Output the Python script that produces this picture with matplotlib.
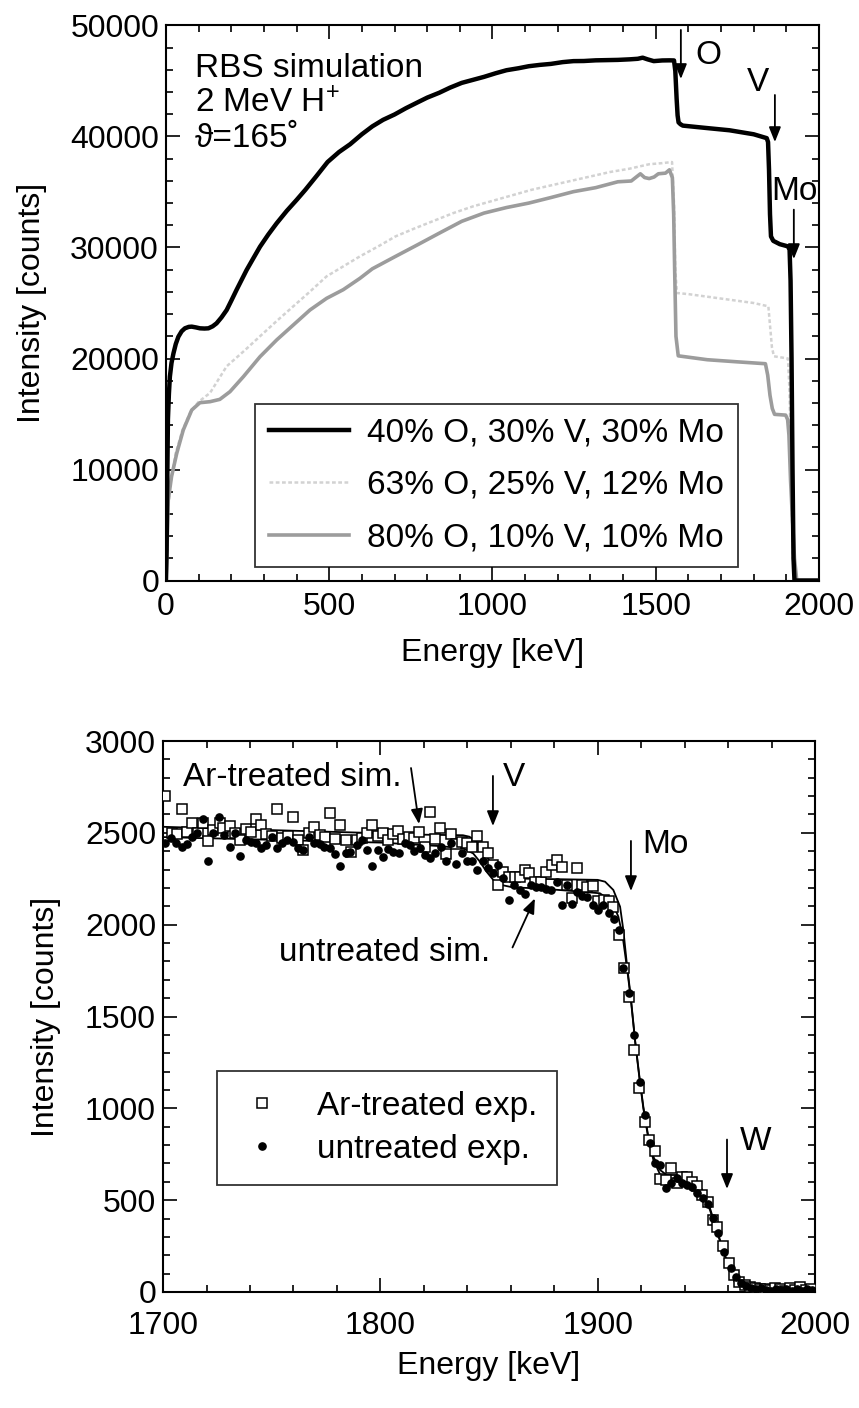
import matplotlib
matplotlib.use("Agg")
import matplotlib.pyplot as plt
from matplotlib.ticker import MultipleLocator

plt.rcParams['font.family'] = ['Liberation Sans', 'DejaVu Sans']
plt.rcParams['mathtext.fontset'] = 'custom'
plt.rcParams['mathtext.rm'] = 'Liberation Sans'
plt.rcParams['mathtext.it'] = 'Liberation Sans:italic'

# ---- top panel: simulated RBS spectra ----
e_40 = [0, 2, 4, 6, 9, 12, 17, 23, 30, 38, 48, 58, 70, 79, 92, 104, 118, 130, 143, 155, 170, 186,
        200, 216, 232, 247, 268, 288, 313, 339, 370, 400, 427, 460, 495, 530, 564, 600, 632, 665,
        700, 735, 769, 800, 837, 870, 906, 940, 974, 1010, 1043, 1080, 1111, 1145, 1179, 1215,
        1248, 1280, 1316, 1350, 1384, 1420, 1445, 1460, 1475, 1494, 1520, 1542, 1556, 1560,
        1564, 1567, 1570, 1576, 1583, 1650, 1726, 1800, 1840, 1844, 1847, 1850, 1853, 1860,
        1880, 1905, 1910, 1913, 1916, 1919, 1922, 1925, 2000]
i_40 = [0, 2750, 9000, 14500, 16800, 18360, 19600, 20470, 21300, 21960, 22450, 22720, 22850,
        22870, 22800, 22720, 22700, 22720, 22900, 23170, 23700, 24370, 25200, 26170, 27100,
        27970, 29050, 30070, 31150, 32180, 33300, 34280, 35200, 36400, 37700, 38600, 39300,
        40200, 40910, 41500, 41980, 42550, 43050, 43500, 43940, 44400, 44830, 45100, 45370,
        45700, 45970, 46150, 46330, 46450, 46540, 46700, 46790, 46800, 46860, 46880, 46900,
        46950, 47000, 47100, 46950, 46790, 46850, 46860, 46850, 45900, 43410, 41900, 41270,
        41100, 40980, 40780, 40560, 40200, 39850, 39500, 37000, 33000, 31000, 30600, 30300,
        30100, 29800, 27000, 20000, 10000, 2000, 0, 0]

e_63 = [0, 5, 15, 30, 50, 75, 100, 135, 186, 240, 288, 340, 390, 440, 492, 543, 594, 650, 703,
        760, 820, 880, 940, 1000, 1060, 1120, 1180, 1240, 1300, 1360, 1420, 1480, 1520, 1550,
        1556, 1560, 1565, 1600, 1700, 1800, 1845, 1850, 1856, 1862, 1905, 1910, 1915, 1920,
        1925, 1930, 2000]
i_63 = [0, 6000, 9000, 11500, 13500, 15200, 16100, 16900, 19300, 20700, 22000, 23400, 24700,
        26000, 27400, 28300, 29200, 30100, 31000, 31700, 32400, 33100, 33700, 34200, 34700,
        35200, 35600, 36000, 36400, 36800, 37100, 37500, 37600, 37700, 34000, 28000, 25900,
        25800, 25400, 25000, 24700, 23000, 21000, 20200, 20000, 17000, 9000, 2000, 0, 0, 0]

e_80 = [0, 2, 7, 17, 33, 53, 79, 104, 135, 165, 196, 237, 288, 339, 390, 441, 492, 543, 594,
        632, 700, 769, 837, 906, 974, 1043, 1111, 1179, 1248, 1316, 1384, 1425, 1453, 1466,
        1480, 1495, 1508, 1530, 1542, 1551, 1555, 1558, 1562, 1569, 1658, 1750, 1836, 1843,
        1850, 1857, 1864, 1898, 1904, 1908, 1913, 1918, 1925, 1932, 2000]
i_80 = [0, 1500, 7250, 9350, 11460, 13560, 15360, 16020, 16110, 16320, 17010, 18360, 20160,
        21670, 23020, 24370, 25420, 26200, 27220, 28080, 29150, 30220, 31290, 32360, 33100,
        33600, 34000, 34500, 35030, 35390, 35920, 35990, 36640, 36300, 36210, 36350, 36640,
        36700, 37000, 36280, 33000, 28000, 22000, 20240, 19890, 19700, 19530, 18500, 16680,
        15500, 14970, 14900, 14500, 13110, 9000, 5990, 2000, 0, 0]

top_labels = ['40% O, 30% V, 30% Mo', '63% O, 25% V, 12% Mo', '80% O, 10% V, 10% Mo']

# ---- bottom panel: measured and simulated spectra ----
ar_energy = [1700.9, 1704.0, 1706.3, 1708.6, 1710.9, 1713.5, 1716.0, 1718.3, 1720.9, 1723.2,
             1726.0, 1727.8, 1730.6, 1733.2, 1735.6, 1738.2, 1740.4, 1742.8, 1745.1, 1747.4,
             1750.0, 1752.3, 1754.6, 1757.4, 1759.7, 1762.3, 1764.6, 1767.2, 1769.5, 1772.0,
             1774.6, 1776.9, 1779.2, 1781.5, 1784.3, 1786.6, 1789.2, 1791.5, 1793.8, 1796.3,
             1798.7, 1801.0, 1803.6, 1805.9, 1808.2, 1810.5, 1813.0, 1815.5, 1817.9, 1820.5,
             1822.8, 1825.1, 1827.4, 1830.2, 1832.5, 1834.8, 1837.4, 1840.0, 1842.3, 1844.6,
             1847.0, 1849.3, 1851.6, 1854.2, 1856.5, 1859.3, 1861.9, 1864.2, 1866.5, 1868.5,
             1871.1, 1873.7, 1876.0, 1878.8, 1881.1, 1883.4, 1885.7, 1888.0, 1890.6, 1892.9,
             1895.2, 1897.7, 1900.3, 1902.9, 1905.4, 1907.2, 1909.8, 1912.3, 1914.6, 1916.9,
             1919.2, 1921.7, 1923.7, 1926.4, 1928.7, 1931.5, 1933.6, 1936.4, 1938.7, 1941.0,
             1943.3, 1945.9, 1948.2, 1950.6, 1953.0, 1955.1, 1957.8, 1960.6, 1962.9, 1965.2,
             1967.6, 1970.0, 1972.3, 1974.6, 1977.0, 1979.3, 1981.6, 1984.0, 1986.3, 1988.7,
             1991.0, 1993.3, 1995.7, 1998.0]
ar_counts = [2701, 2501, 2492, 2628, 2505, 2552, 2501, 2552, 2457, 2515,
             2552, 2524, 2537, 2497, 2461, 2519, 2505, 2577, 2542, 2492,
             2485, 2628, 2470, 2482, 2588, 2461, 2406, 2501, 2533, 2488,
             2479, 2610, 2464, 2542, 2461, 2397, 2461, 2470, 2501, 2542,
             2482, 2501, 2461, 2494, 2512, 2465, 2480, 2470, 2507, 2421,
             2615, 2467, 2528, 2385, 2492, 2439, 2452, 2447, 2425, 2482,
             2421, 2388, 2325, 2216, 2288, 2258, 2261, 2261, 2297, 2279,
             2234, 2234, 2288, 2325, 2352, 2312, 2216, 2143, 2306, 2216,
             2207, 2210, 2131, 2134, 2131, 2098, 1944, 1763, 1608, 1318,
             1109, 928, 828, 770, 613, 610, 673, 592, 624, 628,
             601, 578, 526, 492, 393, 356, 252, 156, 92, 55,
             38, 25, 20, 14, 18, 10, 22, 15, 8, 20,
             12, 25, 10, 18]

un_energy = [1700.9, 1703.5, 1706.0, 1708.6, 1711.2, 1713.5, 1715.8, 1718.3, 1720.9, 1723.2,
             1725.7, 1728.2, 1730.6, 1733.0, 1735.6, 1738.2, 1740.4, 1742.8, 1745.1, 1747.4,
             1750.0, 1752.3, 1754.8, 1757.2, 1759.8, 1762.3, 1764.6, 1767.2, 1769.5, 1772.0,
             1774.2, 1776.9, 1779.2, 1781.5, 1784.0, 1786.2, 1789.2, 1791.5, 1793.8, 1796.3,
             1798.7, 1801.0, 1803.6, 1805.9, 1808.4, 1811.3, 1813.6, 1815.6, 1818.2, 1820.5,
             1822.8, 1825.3, 1827.7, 1830.2, 1832.5, 1834.8, 1837.4, 1839.7, 1842.0, 1844.6,
             1847.0, 1849.3, 1851.6, 1854.2, 1856.5, 1859.3, 1861.6, 1864.2, 1866.5, 1869.1,
             1871.6, 1873.7, 1876.2, 1878.5, 1881.1, 1883.4, 1885.7, 1888.0, 1890.6, 1892.9,
             1895.2, 1897.7, 1900.3, 1902.6, 1905.4, 1907.5, 1910.0, 1911.8, 1914.6, 1916.9,
             1919.5, 1921.8, 1924.1, 1926.4, 1928.7, 1931.5, 1933.6, 1936.4, 1938.7, 1941.0,
             1943.4, 1945.9, 1948.4, 1950.8, 1953.0, 1955.3, 1958.3, 1961.2, 1963.5, 1965.8,
             1968.2, 1970.5, 1972.8, 1975.2, 1977.5, 1979.8, 1982.2, 1984.5, 1986.8, 1989.2,
             1991.5, 1993.8, 1996.2, 1998.6]
un_counts = [2447, 2470, 2447, 2421, 2437, 2480, 2497, 2574, 2347, 2497,
             2585, 2488, 2425, 2497, 2376, 2461, 2452, 2447, 2416, 2434,
             2479, 2416, 2443, 2461, 2450, 2416, 2406, 2479, 2447, 2440,
             2421, 2416, 2385, 2320, 2392, 2397, 2434, 2461, 2406, 2320,
             2406, 2370, 2410, 2397, 2388, 2443, 2434, 2403, 2416, 2379,
             2361, 2388, 2421, 2347, 2447, 2330, 2388, 2347, 2347, 2297,
             2349, 2306, 2283, 2325, 2252, 2134, 2216, 2189, 2167, 2216,
             2203, 2203, 2192, 2189, 2234, 2107, 2216, 2113, 2180, 2156,
             2149, 2107, 2080, 2107, 2062, 2029, 1971, 1763, 1626, 1400,
             1146, 964, 810, 700, 691, 564, 592, 619, 595, 583,
             574, 537, 510, 480, 401, 320, 220, 129, 80, 48,
             30, 22, 15, 20, 12, 8, 16, 10, 18, 8,
             14, 6, 15, 9]

sim_ar_energy = [1700, 1750, 1800, 1820, 1838, 1841, 1844, 1847, 1850, 1852, 1854, 1858, 1880,
                 1900, 1903.4, 1907.2, 1910.3, 1911.8, 1913.4, 1915.2, 1917.2, 1919.2, 1921,
                 1923.3, 1925.6, 1928.7, 1931.8, 1938, 1942.5, 1945.6, 1948.6, 1951.7, 1954.8,
                 1959, 1963, 1967, 1971, 1980, 2000]
sim_ar_counts = [2533, 2515, 2498, 2490, 2487, 2479, 2452, 2407, 2352, 2298, 2265, 2252, 2248,
                 2244, 2234, 2189, 2098, 1971, 1789, 1608, 1372, 1172, 1009,
                 846, 737, 664, 637, 637, 628, 601, 546, 455, 337,
                 184, 58, 17, 8, 6, 6]
sim_un_energy = [1700, 1750, 1800, 1826, 1838, 1842.7, 1845.8, 1848.9, 1852, 1855.8, 1861, 1872,
                 1890, 1901, 1906.5, 1909.5, 1911.5, 1913.4, 1915.2, 1917.2, 1919.2, 1921,
                 1923.3, 1925.6, 1928.7, 1931.8, 1938, 1942.5, 1945.6, 1948.6, 1951.7, 1954.8,
                 1959, 1963, 1967, 1971, 1980, 2000]
sim_un_counts = [2477, 2462, 2447, 2429, 2416, 2388, 2343, 2288, 2243, 2216, 2203, 2198,
                 2182, 2171, 2126, 2044, 1935, 1771, 1600, 1365, 1165, 1000,
                 835, 720, 640, 612, 608, 600, 578, 530, 445, 330,
                 180, 55, 15, 6, 5, 5]

fig = plt.figure(figsize=(8.59, 14.08), dpi=100)
ax1 = fig.add_axes([0.1932, 0.5877, 0.7602, 0.3942])
ax2 = fig.add_axes([0.1898, 0.0824, 0.759, 0.3913])

FS = 23


def style_axes(ax, xpad=8):
    ax.tick_params(which='both', direction='in', top=True, right=True, labelsize=FS,
                   width=1.2)
    ax.tick_params(axis='x', pad=xpad)
    ax.tick_params(axis='y', pad=5)
    ax.tick_params(which='major', length=10)
    ax.tick_params(which='minor', length=5)
    for sp in ax.spines.values():
        sp.set_linewidth(1.5)


# top panel
ax1.plot(e_63, i_63, color='#d2d2d2', lw=1.8, linestyle=(0, (1.5, 1.0)),
         label=top_labels[1], zorder=2)
ax1.plot(e_80, i_80, color='#9c9c9c', lw=2.6, label=top_labels[2], zorder=3)
ax1.plot(e_40, i_40, color='black', lw=3.2, label=top_labels[0], zorder=4)
ax1.set_xlim(0, 2000)
ax1.set_ylim(0, 50000)
ax1.xaxis.set_major_locator(MultipleLocator(500))
ax1.xaxis.set_minor_locator(MultipleLocator(100))
ax1.yaxis.set_major_locator(MultipleLocator(10000))
ax1.yaxis.set_minor_locator(MultipleLocator(2000))
style_axes(ax1)
ax1.set_xlabel('Energy [keV]', fontsize=FS, labelpad=12)
ax1.set_ylabel('Intensity [counts]', fontsize=FS, labelpad=17)

h, l = ax1.get_legend_handles_labels()
order = [2, 0, 1]
leg1 = ax1.legend([h[k] for k in order], [l[k] for k in order], loc='lower left',
                  bbox_to_anchor=(0.136, 0.024), fontsize=24, frameon=True, fancybox=False,
                  edgecolor='black', handlelength=2.4, handletextpad=0.55, labelspacing=0.64,
                  borderpad=0.42, borderaxespad=0)
leg1.get_frame().set_linewidth(1.3)

ax1.text(89, 45360, 'RBS simulation', fontsize=24, va='baseline')
ax1.text(89, 42210, r'2 MeV H$^{+}$', fontsize=24, va='baseline')
ax1.text(89, 39050, '\u03d1=165\u02da', fontsize=24, va='baseline')

arrow = dict(arrowstyle='-|>,head_length=0.45,head_width=0.18', color='black', lw=1.3,
             mutation_scale=20, shrinkA=0, shrinkB=0)
ax1.text(1660, 47340, 'O', fontsize=24, ha='center', va='center')
ax1.annotate('', xy=(1577, 45180), xytext=(1577, 49600), arrowprops=arrow)
ax1.text(1813, 44820, 'V', fontsize=24, ha='center', va='center')
ax1.annotate('', xy=(1865, 39500), xytext=(1865, 43740), arrowprops=arrow)
ax1.text(1926, 35000, 'Mo', fontsize=24, ha='center', va='center')
ax1.annotate('', xy=(1923, 28960), xytext=(1923, 33410), arrowprops=arrow)

# bottom panel
ax2.plot(sim_ar_energy, sim_ar_counts, color='black', lw=1.3, zorder=2)
ax2.plot(sim_un_energy, sim_un_counts, color='black', lw=1.3, zorder=2)
ax2.plot(ar_energy, ar_counts, linestyle='none', marker='s', ms=6.5, mfc='white', mec='black',
         mew=1.1, label='Ar-treated exp.', zorder=3)
ax2.plot(un_energy, un_counts, linestyle='none', marker='o', ms=5.2, mfc='black', mec='black',
         label='untreated exp.', zorder=4)
ax2.set_xlim(1700, 2000)
ax2.set_ylim(0, 3000)
ax2.xaxis.set_major_locator(MultipleLocator(100))
ax2.xaxis.set_minor_locator(MultipleLocator(20))
ax2.yaxis.set_major_locator(MultipleLocator(500))
ax2.yaxis.set_minor_locator(MultipleLocator(100))
style_axes(ax2, xpad=14)
ax2.set_xlabel('Energy [keV]', fontsize=FS, labelpad=7)
ax2.set_ylabel('Intensity [counts]', fontsize=FS, labelpad=17)

leg2 = ax2.legend(loc='lower left', bbox_to_anchor=(0.083, 0.194), fontsize=24, frameon=True,
                  fancybox=False, edgecolor='black', handlelength=1.5, handletextpad=0.9,
                  labelspacing=0.36, borderpad=0.6, borderaxespad=0)
leg2.get_frame().set_linewidth(1.3)

ax2.text(1709, 2799, 'Ar-treated sim.', fontsize=24, ha='left', va='center')
ax2.annotate('', xy=(1817.8, 2548), xytext=(1814.1, 2853), arrowprops=arrow)
ax2.text(1861.5, 2799, 'V', fontsize=24, ha='center', va='center')
ax2.annotate('', xy=(1851.8, 2537), xytext=(1851.8, 2810), arrowprops=arrow)
ax2.text(1931, 2434, 'Mo', fontsize=24, ha='center', va='center')
ax2.annotate('', xy=(1915.3, 2183), xytext=(1915.3, 2456), arrowprops=arrow)
ax2.text(1753.4, 1851, 'untreated sim.', fontsize=24, ha='left', va='center')
ax2.annotate('', xy=(1871.1, 2143), xytext=(1860.8, 1876), arrowprops=arrow)
ax2.text(1972.7, 822, 'W', fontsize=24, ha='center', va='center')
ax2.annotate('', xy=(1959.5, 561), xytext=(1959.5, 830), arrowprops=arrow)

fig.savefig('out.png', dpi=100)
